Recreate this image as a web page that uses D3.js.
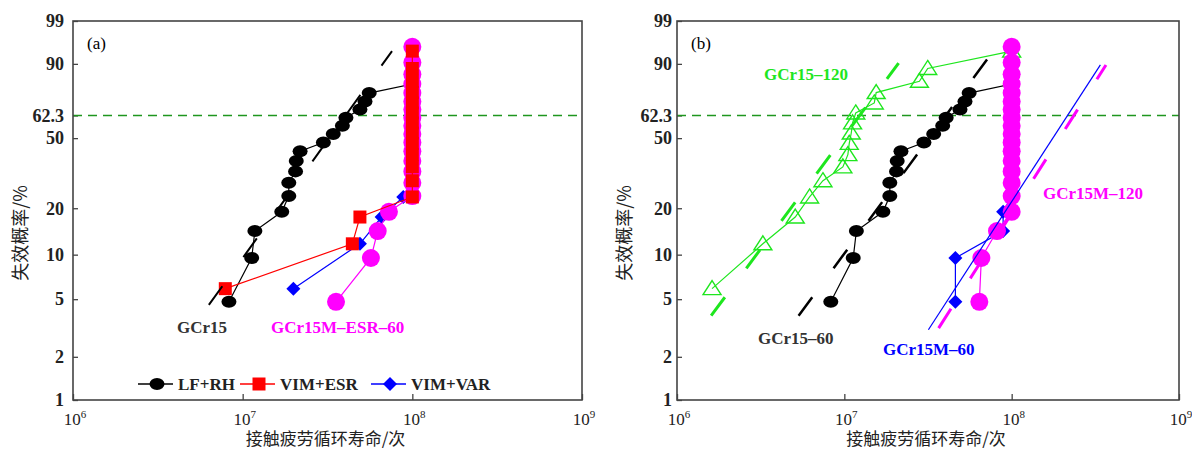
<!DOCTYPE html>
<html>
<head>
<meta charset="utf-8">
<script src="https://cdn.jsdelivr.net/npm/d3@7"></script>
<style>
  body { margin: 0; background: #fff; }
  text { font-family: "Liberation Serif", "Times New Roman", serif; }
</style>
</head>
<body>
<svg id="chart" width="1192" height="451"></svg>
<script>
// ---- axis values ----
const xTickVals = [1e6, 1e7, 1e8, 1e9];
const xTickExp = ["6", "7", "8", "9"];
const yTickVals = [1, 2, 5, 10, 20, 50, 63.2, 90, 99];
const yTickLabels = ["1", "2", "5", "10", "20", "50", "62.3", "90", "99"];

// ---- failure probability (%) ----
const F20 = [4.8, 9.5, 14.3, 19.0, 23.8, 28.6, 33.3, 38.1, 42.9, 47.6,
             52.4, 57.1, 61.9, 66.7, 71.4, 76.2, 81.0, 85.7, 90.5, 95.2];
const F16 = [5.9, 11.8, 17.6, 23.5, 29.4, 35.3, 41.2, 47.1,
             52.9, 58.8, 64.7, 70.6, 76.5, 82.4, 88.2, 94.1];

// ---- contact fatigue life (cycles) ----
// GCr15 / LF+RH (same in both panels)
const lfrhN = [8.3e6, 1.13e7, 1.18e7, 1.70e7, 1.87e7, 1.87e7, 2.05e7, 2.07e7, 2.18e7, 2.99e7,
               3.42e7, 3.87e7, 4.06e7, 4.91e7, 5.26e7, 5.57e7, 1e8, 1e8, 1e8, 1e8];
// panel (a)
const vimEsrN = [7.9e6, 4.43e7, 4.91e7, 1e8, 1e8, 1e8, 1e8, 1e8,
                 1e8, 1e8, 1e8, 1e8, 1e8, 1e8, 1e8, 1e8];
const vimVarN = [1.99e7, 4.91e7, 6.59e7, 8.84e7, 1e8, 1e8, 1e8, 1e8,
                 1e8, 1e8, 1e8, 1e8, 1e8, 1e8, 1e8, 1e8];
const esr60N = [3.55e7, 5.70e7, 6.25e7, 7.28e7, 1e8, 1e8, 1e8, 1e8, 1e8, 1e8,
                1e8, 1e8, 1e8, 1e8, 1e8, 1e8, 1e8, 1e8, 1e8, 1e8];
// panel (b)
const gcr120N = [1.62e6, 3.26e6, 5.09e6, 6.20e6, 7.45e6, 9.80e6, 1.05e7, 1.07e7,
                 1.10e7, 1.12e7, 1.17e7, 1.51e7, 1.55e7, 2.81e7, 3.15e7, 1e8];
const m60N = [4.61e7, 4.61e7, 8.89e7, 8.89e7, 1e8, 1e8, 1e8, 1e8, 1e8, 1e8,
              1e8, 1e8, 1e8, 1e8, 1e8, 1e8, 1e8, 1e8, 1e8, 1e8];
const m120N = [6.41e7, 6.59e7, 8.17e7, 1e8, 1e8, 1e8, 1e8, 1e8, 1e8, 1e8,
               1e8, 1e8, 1e8, 1e8, 1e8, 1e8, 1e8, 1e8, 1e8, 1e8];

// ---- Weibull fit lines (end points) ----
const fitA_N = [6.32e6, 7.59e7],  fitA_F = [4.57, 94.1];
const fitB_N = [5.33e6, 7.16e7],  fitB_F = [3.85, 91.7];
const fit120_N = [1.60e6, 2.11e7], fit120_F = [3.85, 90.3];
const fitM120_N = [3.66e7, 3.66e8], fitM120_F = [3.16, 89.6];
const fitM60_N = [3.18e7, 3.39e8], fitM60_F = [3.08, 89.6];

const GREEN = "#1ee61e";
const plotTop = 21, plotBottom = 400;
const svg = d3.select("#chart");

// weibull probability transform
const weib = p => Math.log(-Math.log(1 - p / 100));
const y = d3.scaleLinear().domain([weib(1), weib(99)]).range([plotBottom, plotTop]);

const markerPath = {
  ellipse: "M-7.5,0A7.5,6 0 1,0 7.5,0A7.5,6 0 1,0 -7.5,0Z",
  circle: "M-9,0A9,9 0 1,0 9,0A9,9 0 1,0 -9,0Z",
  square: "M-6.5,-6.5H6.5V6.5H-6.5Z",
  diamond: "M0,-7L7,0L0,7L-7,0Z",
  triangle: "M0,-8L9,6L-9,6Z"
};

function drawSeries(g, x, N, F, color, marker) {
  const pts = N.map((n, i) => [n, F[i]]);
  g.append("path")
    .datum(pts)
    .attr("d", d3.line().x(d => x(d[0])).y(d => y(weib(d[1]))))
    .attr("fill", "none")
    .attr("stroke", color)
    .attr("stroke-width", 1.2);
  g.append("g")
    .selectAll("path")
    .data(pts)
    .join("path")
    .attr("transform", d => `translate(${x(d[0])},${y(weib(d[1]))})`)
    .attr("d", markerPath[marker])
    .attr("fill", marker === "triangle" ? "none" : color)
    .attr("stroke", marker === "triangle" ? color : "none")
    .attr("stroke-width", 1.4);
}

function drawFit(g, x, N, F, color, width, dashed) {
  g.append("line")
    .attr("x1", x(N[0])).attr("y1", y(weib(F[0])))
    .attr("x2", x(N[1])).attr("y2", y(weib(F[1])))
    .attr("stroke", color)
    .attr("stroke-width", width)
    .attr("stroke-dasharray", dashed ? "23,36" : null);
}

function drawPanel(left, right, tickPad, tag) {
  const x = d3.scaleLog().domain([1e6, 1e9]).range([left, right]);
  const g = svg.append("g");

  //x ticks pointing inward
  g.append("g")
    .attr("transform", `translate(0,${plotBottom})`)
    .call(d3.axisBottom(x).tickValues(xTickVals).tickSizeInner(-6).tickSizeOuter(0).tickFormat(""))
    .call(a => a.select(".domain").remove())
    .call(a => a.selectAll("line").attr("stroke", "#444").attr("stroke-width", 1.3));

  g.selectAll(".xlab")
    .data(xTickVals)
    .join("text")
    .attr("class", "xlab")
    .attr("x", d => x(d) + 2)
    .attr("y", plotBottom + 25)
    .attr("text-anchor", "middle")
    .style("font-size", "17px")
    .attr("fill", "#222")
    .each(function (d, i) {
      const t = d3.select(this);
      t.append("tspan").text("10");
      t.append("tspan").attr("dy", -7).style("font-size", "11px").text(xTickExp[i]);
    });

  //y axis on weibull scale
  g.append("g")
    .attr("transform", `translate(${left},0)`)
    .call(d3.axisLeft(y).tickValues(yTickVals.map(weib)).tickSizeInner(-5).tickSizeOuter(0)
      .tickPadding(tickPad).tickFormat((d, i) => yTickLabels[i]))
    .call(a => a.select(".domain").remove())
    .call(a => a.selectAll("line").attr("stroke", "#444").attr("stroke-width", 1.3))
    .call(a => a.selectAll("text")
      .style("font-family", '"Liberation Serif", serif')
      .style("font-size", "18px")
      .style("font-weight", "bold")
      .attr("fill", "#222"));

  //62.3 reference line
  g.append("line")
    .attr("x1", left).attr("x2", right)
    .attr("y1", y(weib(63.2))).attr("y2", y(weib(63.2)))
    .attr("stroke", "#1f961f")
    .attr("stroke-width", 1.4)
    .attr("stroke-dasharray", "9,6");

  //frame
  g.append("rect")
    .attr("x", left).attr("y", plotTop)
    .attr("width", right - left).attr("height", plotBottom - plotTop)
    .attr("fill", "none")
    .attr("stroke", "#444")
    .attr("stroke-width", 1.6);

  g.append("text")
    .attr("x", left + 14).attr("y", plotTop + 28)
    .style("font-size", "17px")
    .text(tag);

  //axis titles
  g.append("text")
    .attr("x", (left + right) / 2 - 2)
    .attr("y", 445)
    .attr("text-anchor", "middle")
    .style("font-family", '"Noto Sans CJK SC", sans-serif')
    .style("font-size", "17px")
    .attr("fill", "#222")
    .text("接触疲劳循环寿命/次");

  g.append("text")
    .attr("transform", "rotate(-90)")
    .attr("x", -233)
    .attr("y", left - 46)
    .attr("text-anchor", "middle")
    .style("font-family", '"Noto Sans CJK SC", sans-serif')
    .style("font-size", "18px")
    .attr("fill", "#222")
    .text("失效概率/%");

  return { g, x };
}

function label(g, x0, y0, txt, color) {
  g.append("text")
    .attr("x", x0).attr("y", y0)
    .style("font-size", "17px")
    .style("font-weight", "bold")
    .attr("fill", color)
    .text(txt);
}

// ---------- panel (a) ----------
const pa = drawPanel(73, 582, 9, "(a)");
drawSeries(pa.g, pa.x, lfrhN, F20, "#000", "ellipse");
drawSeries(pa.g, pa.x, vimVarN, F16, "#0000ff", "diamond");
drawSeries(pa.g, pa.x, esr60N, F20, "#ff00ff", "circle");
drawSeries(pa.g, pa.x, vimEsrN, F16, "#ff0000", "square");
drawFit(pa.g, pa.x, fitA_N, fitA_F, "#000", 2, true);
label(pa.g, 177, 333, "GCr15", "#333");
label(pa.g, 271, 333, "GCr15M–ESR–60", "#ff00ff");

//legend
const legendItems = [
  { name: "LF+RH", color: "#000", marker: "ellipse", x0: 138 },
  { name: "VIM+ESR", color: "#ff0000", marker: "square", x0: 240 },
  { name: "VIM+VAR", color: "#0000ff", marker: "diamond", x0: 371 }
];
const legend = pa.g.selectAll(".legend")
  .data(legendItems)
  .join("g")
  .attr("class", "legend")
  .attr("transform", d => `translate(${d.x0},384)`);
legend.append("line")
  .attr("x1", 0).attr("x2", 35)
  .attr("stroke", d => d.color)
  .attr("stroke-width", 1.3);
legend.append("path")
  .attr("transform", "translate(19,0)")
  .attr("d", d => markerPath[d.marker])
  .attr("fill", d => d.color);
legend.append("text")
  .attr("x", 40).attr("y", 6)
  .style("font-size", "17px")
  .style("font-weight", "bold")
  .attr("fill", "#222")
  .text(d => d.name);

// ---------- panel (b) ----------
const pb = drawPanel(677, 1179, 5, "(b)");
drawSeries(pb.g, pb.x, gcr120N, F16, GREEN, "triangle");
drawSeries(pb.g, pb.x, lfrhN, F20, "#000", "ellipse");
drawSeries(pb.g, pb.x, m60N, F20, "#0000ff", "diamond");
drawSeries(pb.g, pb.x, m120N, F20, "#ff00ff", "circle");
drawFit(pb.g, pb.x, fitB_N, fitB_F, "#000", 2.5, true);
drawFit(pb.g, pb.x, fit120_N, fit120_F, GREEN, 3, true);
drawFit(pb.g, pb.x, fitM120_N, fitM120_F, "#ff00ff", 3, true);
drawFit(pb.g, pb.x, fitM60_N, fitM60_F, "#0000ff", 1.2, false);
label(pb.g, 764, 80, "GCr15–120", GREEN);
label(pb.g, 1043, 199, "GCr15M–120", "#ff00ff");
label(pb.g, 758, 344, "GCr15–60", "#333");
label(pb.g, 883, 355, "GCr15M–60", "#0000ff");
</script>
</body>
</html>
